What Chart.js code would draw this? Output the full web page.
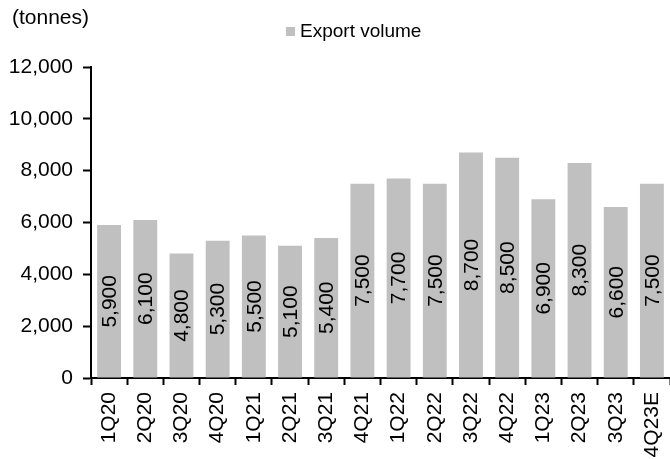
<!DOCTYPE html>
<html>
<head>
<meta charset="utf-8">
<script src="https://cdn.jsdelivr.net/npm/chart.js@4"></script>
<style>
html,body{margin:0;padding:0;background:#fff;}
#wrap{width:670px;height:459px;}
</style>
</head>
<body>
<div id="wrap"><canvas id="c" width="670" height="459"></canvas></div>
<script>
const categories = ["1Q20","2Q20","3Q20","4Q20","1Q21","2Q21","3Q21","4Q21","1Q22","2Q22","3Q22","4Q22","1Q23","2Q23","3Q23","4Q23E"];
const exportVolume = [5900,6100,4800,5300,5500,5100,5400,7500,7700,7500,8700,8500,6900,8300,6600,7500];
const yTicks = [0,2000,4000,6000,8000,10000,12000];
const seriesName = "Export volume";
const unitLabel = "(tonnes)";

const FONT = "'Liberation Sans', Arial, sans-serif";
const fmt = v => v.toLocaleString('en-US');

const extras = {
  id: 'extras',
  afterDatasetsDraw(chart) {
    const ctx = chart.ctx;
    const meta = chart.getDatasetMeta(0);
    ctx.save();
    ctx.fillStyle = '#000';
    ctx.font = '21px ' + FONT;
    ctx.textAlign = 'center';
    ctx.textBaseline = 'middle';
    meta.data.forEach((bar, i) => {
      const cx = bar.x, cy = (bar.y + bar.base) / 2;
      ctx.save();
      ctx.translate(cx, cy);
      ctx.rotate(-Math.PI / 2);
      ctx.fillText(fmt(exportVolume[i]), 0, 1);
      ctx.restore();
    });
    // unit label
    ctx.textAlign = 'left';
    ctx.font = '21px ' + FONT;
    ctx.fillText(unitLabel, 12, 18);
    // legend
    ctx.fillStyle = '#c0c0c0';
    ctx.fillRect(286, 27, 9, 9);
    ctx.fillStyle = '#000';
    ctx.font = '19px ' + FONT;
    ctx.fillText(seriesName, 300, 32);
    ctx.restore();
  }
};

new Chart(document.getElementById('c'), {
  type: 'bar',
  data: {
    labels: categories,
    datasets: [{
      label: seriesName,
      data: exportVolume,
      backgroundColor: '#c0c0c0',
      borderWidth: 0,
      barPercentage: 0.66,
      categoryPercentage: 1.0
    }]
  },
  options: {
    responsive: false,
    animation: false,
    devicePixelRatio: 1,
    layout: { padding: { top: 67, left: 0, right: 0, bottom: 0 } },
    plugins: { legend: { display: false }, tooltip: { enabled: false } },
    scales: {
      x: {
        offset: true,
        afterFit(s) { s.height = 81; s.paddingLeft = 0; s.paddingRight = 0; },
        grid: { display: true, drawOnChartArea: false, drawTicks: true, tickLength: 7, tickColor: '#000', tickWidth: 2, offset: true },
        border: { display: true, color: '#000', width: 2 },
        ticks: { color: '#000', font: { family: FONT, size: 21 }, minRotation: 90, maxRotation: 90, autoSkip: false, padding: 7 }
      },
      y: {
        min: 0, max: 12000,
        afterFit(s) { s.width = 91; s.paddingTop = 0; s.paddingBottom = 0; },
        afterBuildTicks(s) { s.ticks = yTicks.map(v => ({ value: v })); },
        grid: { display: true, drawOnChartArea: false, drawTicks: true, tickLength: 8, tickColor: '#000', tickWidth: 2 },
        border: { display: true, color: '#000', width: 2 },
        ticks: { color: '#000', font: { family: FONT, size: 21 }, padding: 10, callback: v => fmt(v) }
      }
    }
  },
  plugins: [extras]
});
</script>
</body>
</html>
